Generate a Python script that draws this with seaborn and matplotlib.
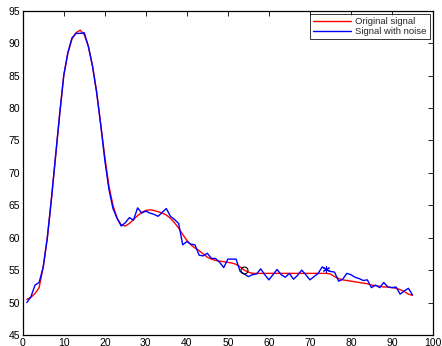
import numpy as np
import pandas as pd
import seaborn as sns
import matplotlib
matplotlib.use("Agg")
import matplotlib.pyplot as plt

# sample index
x = np.arange(1, 96)

# original (smooth) signal
original = [
    50.5, 50.8, 51.4, 52.3, 55.5, 60.0, 66.0, 72.5, 79.0, 85.0,
    88.5, 90.6, 91.6, 92.0, 91.3, 89.5, 86.5, 82.5, 77.5, 72.5,
    68.0, 65.0, 63.0, 62.0, 61.8, 62.2, 62.8, 63.4, 63.9, 64.2,
    64.3, 64.2, 64.0, 63.8, 63.5, 63.0, 62.3, 61.5, 60.5, 59.6,
    58.9, 58.4, 58.0, 57.5, 57.0, 56.7, 56.5, 56.4, 56.3, 56.2,
    56.1, 55.9, 55.5, 55.0, 54.7, 54.5, 54.5, 54.5, 54.5, 54.5,
    54.5, 54.5, 54.5, 54.5, 54.5, 54.5, 54.5, 54.5, 54.5, 54.5,
    54.5, 54.5, 54.5, 54.5, 54.4, 54.0, 53.7, 53.5, 53.4, 53.3,
    53.2, 53.1, 53.0, 52.9, 52.7, 52.6, 52.5, 52.4, 52.4, 52.3,
    52.2, 52.0, 51.7, 51.3, 51.1,
]

# signal with noise
noisy = [
    50.0, 50.9, 52.7, 53.1, 55.5, 60.0, 66.0, 72.5, 79.0, 85.0,
    88.5, 90.8, 91.5, 91.5, 91.6, 89.5, 86.5, 82.5, 77.5, 72.0,
    67.5, 64.5, 63.0, 61.8, 62.3, 63.1, 62.7, 64.6, 63.8, 64.1,
    63.8, 63.6, 63.3, 63.9, 64.5, 63.3, 62.8, 62.2, 58.9, 59.4,
    59.0, 58.9, 57.3, 57.2, 57.6, 56.8, 56.8, 56.2, 55.4, 56.7,
    56.7, 56.7, 54.8, 54.4, 54.0, 54.3, 54.4, 55.2, 54.3, 53.5,
    54.3, 55.1, 54.3, 53.9, 54.5, 53.6, 54.2, 55.0, 54.3, 53.5,
    54.0, 54.5, 55.5, 55.1, 54.8, 54.7, 53.3, 53.6, 54.5, 54.3,
    53.9, 53.7, 53.4, 53.5, 52.3, 52.7, 52.3, 53.1, 52.4, 52.3,
    52.4, 51.3, 51.8, 52.2, 51.2,
]

# highlighted samples
circle_idx = 54
star_idx = 74

sns.set_style("white")
plt.rcParams["font.family"] = ["Liberation Sans", "DejaVu Sans"]

fig = plt.figure(figsize=(4.42, 3.46), dpi=100)
ax = fig.add_axes([0.0514, 0.0318, 0.9282, 0.9373])

df = pd.DataFrame({"x": x, "Original signal": original, "Signal with noise": noisy})
sns.lineplot(data=df, x="x", y="Original signal", color="red", linewidth=1.0,
             label="Original signal", ax=ax)
sns.lineplot(data=df, x="x", y="Signal with noise", color="blue", linewidth=1.0,
             label="Signal with noise", ax=ax)

ax.plot(circle_idx, original[circle_idx - 1], marker="o", markersize=5,
        markerfacecolor="none", markeredgecolor="black", markeredgewidth=0.8)
ax.plot(star_idx, noisy[star_idx - 1], marker=(6, 2, 0), markersize=5,
        color="blue", markeredgewidth=0.8)

ax.set_xlim(0, 100)
ax.set_ylim(45, 95)
ax.set_xticks(range(0, 101, 10))
ax.set_yticks(range(45, 96, 5))
ax.set_xlabel("")
ax.set_ylabel("")
ax.tick_params(direction="in", length=3.5, width=0.6, labelsize=7.5, pad=2,
               top=True, right=True, colors="black")
for s in ax.spines.values():
    s.set_color("black")
    s.set_linewidth(0.9)

leg = ax.legend(loc="upper right", fontsize=6.8, frameon=True, fancybox=False,
                borderaxespad=0.35, handlelength=4.0, handletextpad=0.5,
                borderpad=0.3, labelspacing=0.15)
leg.get_frame().set_edgecolor("black")
leg.get_frame().set_linewidth(0.7)

fig.savefig("out.png", dpi=100)
